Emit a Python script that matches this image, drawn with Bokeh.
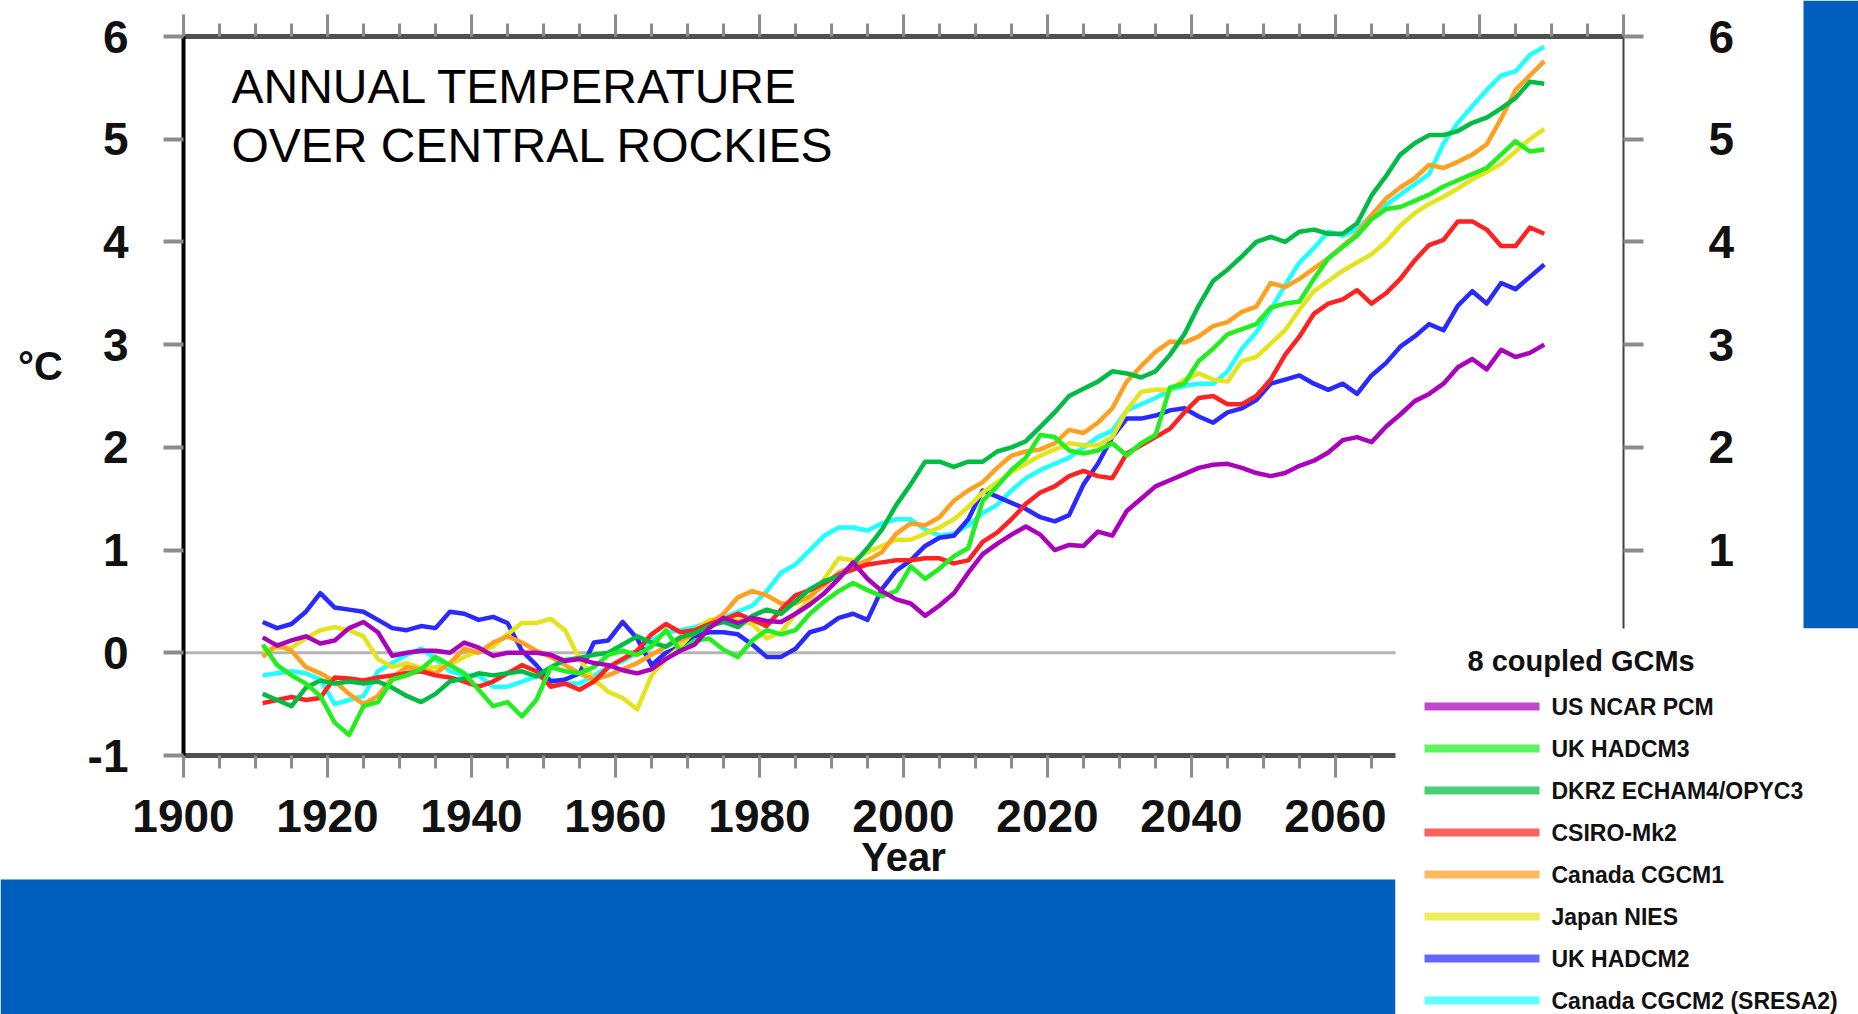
from bokeh.plotting import figure
from bokeh.models import (Range1d, LinearAxis, FixedTicker, Span, Label, Column,
                          CustomJSTickFormatter)
from bokeh.core.properties import value
from bokeh.embed import file_html
from bokeh.resources import INLINE

# ---- data: annual temperature anomaly (deg C), 8 coupled GCMs ----
years = list(range(1911, 2090, 2))

us_ncar_pcm = [0.15, 0.07, 0.12, 0.16, 0.09, 0.12, 0.24, 0.30, 0.20, -0.03,
               0.0, 0.02, 0.02, 0.0, 0.10, 0.05, -0.03, 0.0, 0.0, 0.0,
               -0.02, -0.08, -0.06, -0.10, -0.12, -0.17, -0.20, -0.16, -0.06, 0.02,
               0.08, 0.24, 0.34, 0.29, 0.34, 0.31, 0.30, 0.38, 0.47, 0.58,
               0.72, 0.88, 0.72, 0.60, 0.52, 0.48, 0.36, 0.46, 0.58, 0.78,
               0.96, 1.06, 1.15, 1.23, 1.15, 1.00, 1.05, 1.04, 1.18, 1.14,
               1.38, 1.50, 1.62, 1.68, 1.74, 1.80, 1.83, 1.84, 1.80, 1.75,
               1.72, 1.75, 1.82, 1.87, 1.95, 2.07, 2.10, 2.05, 2.20, 2.32,
               2.45, 2.52, 2.62, 2.78, 2.86, 2.76, 2.95, 2.88, 2.92, 3.00]

uk_hadcm3 = [0.08, -0.12, -0.22, -0.30, -0.42, -0.68, -0.80, -0.52, -0.48, -0.26,
             -0.22, -0.16, -0.04, -0.12, -0.20, -0.36, -0.52, -0.48, -0.62, -0.46,
             -0.14, -0.18, -0.20, -0.14, -0.02, 0.02, -0.02, 0.06, 0.22, 0.02,
             0.12, 0.14, 0.03, -0.04, 0.12, 0.22, 0.18, 0.22, 0.38, 0.50,
             0.60, 0.68, 0.61, 0.55, 0.60, 0.84, 0.72, 0.82, 0.94, 1.02,
             1.48, 1.62, 1.78, 1.90, 2.12, 2.10, 1.97, 1.94, 1.97, 2.04,
             1.92, 2.04, 2.12, 2.58, 2.62, 2.84, 2.96, 3.10, 3.15, 3.20,
             3.36, 3.40, 3.42, 3.64, 3.84, 3.95, 4.06, 4.22, 4.32, 4.34,
             4.40, 4.46, 4.54, 4.60, 4.66, 4.72, 4.85, 4.98, 4.88, 4.90]

dkrz_echam4 = [-0.40, -0.46, -0.52, -0.34, -0.27, -0.30, -0.28, -0.30, -0.28, -0.34,
               -0.42, -0.48, -0.40, -0.28, -0.25, -0.20, -0.22, -0.20, -0.18, -0.23,
               -0.14, -0.07, -0.05, -0.02, 0.0, 0.08, 0.16, 0.10, 0.06, 0.15,
               0.19, 0.26, 0.30, 0.25, 0.36, 0.42, 0.38, 0.50, 0.62, 0.70,
               0.74, 0.86, 1.02, 1.20, 1.44, 1.64, 1.86, 1.86, 1.81, 1.86,
               1.86, 1.96, 2.00, 2.06, 2.20, 2.34, 2.50, 2.57, 2.64, 2.74,
               2.72, 2.68, 2.74, 2.90, 3.10, 3.38, 3.62, 3.73, 3.86, 4.00,
               4.05, 4.00, 4.10, 4.12, 4.08, 4.08, 4.18, 4.45, 4.64, 4.85,
               4.96, 5.04, 5.04, 5.08, 5.16, 5.21, 5.30, 5.40, 5.56, 5.54]

csiro_mk2 = [-0.49, -0.46, -0.43, -0.46, -0.44, -0.24, -0.25, -0.27, -0.24, -0.22,
             -0.20, -0.18, -0.22, -0.24, -0.28, -0.33, -0.28, -0.20, -0.12, -0.18,
             -0.33, -0.30, -0.36, -0.28, -0.14, -0.06, 0.02, 0.18, 0.28, 0.20,
             0.22, 0.28, 0.32, 0.38, 0.32, 0.26, 0.42, 0.56, 0.61, 0.68,
             0.76, 0.81, 0.86, 0.88, 0.90, 0.90, 0.92, 0.92, 0.87, 0.90,
             1.08, 1.17, 1.30, 1.45, 1.56, 1.62, 1.72, 1.77, 1.72, 1.70,
             1.94, 2.02, 2.10, 2.18, 2.34, 2.48, 2.50, 2.42, 2.42, 2.50,
             2.66, 2.90, 3.08, 3.30, 3.40, 3.44, 3.53, 3.40, 3.50, 3.64,
             3.82, 3.97, 4.02, 4.20, 4.20, 4.12, 3.96, 3.96, 4.14, 4.08]

canada_cgcm1 = [-0.04, 0.08, 0.02, -0.14, -0.20, -0.28, -0.40, -0.50, -0.42, -0.24,
                -0.14, -0.16, -0.20, -0.10, 0.04, 0.0, 0.10, 0.16, 0.10, 0.02,
                -0.04, -0.12, -0.20, -0.26, -0.22, -0.16, -0.10, -0.02, 0.06, 0.12,
                0.19, 0.28, 0.38, 0.54, 0.60, 0.56, 0.48, 0.48, 0.55, 0.66,
                0.78, 0.84, 0.90, 0.98, 1.16, 1.26, 1.24, 1.32, 1.48, 1.58,
                1.66, 1.80, 1.92, 1.96, 1.98, 2.04, 2.17, 2.14, 2.24, 2.38,
                2.64, 2.79, 2.93, 3.03, 3.02, 3.08, 3.18, 3.22, 3.32, 3.37,
                3.60, 3.56, 3.64, 3.74, 3.84, 3.96, 4.08, 4.26, 4.42, 4.53,
                4.62, 4.75, 4.72, 4.78, 4.85, 4.95, 5.20, 5.48, 5.62, 5.76]

japan_nies = [0.02, 0.05, 0.05, 0.14, 0.22, 0.25, 0.22, 0.16, -0.06, -0.14,
              -0.10, -0.15, -0.14, -0.12, -0.04, 0.02, 0.06, 0.18, 0.29, 0.29,
              0.33, 0.22, -0.06, -0.26, -0.38, -0.44, -0.55, -0.22, -0.06, 0.06,
              0.22, 0.32, 0.34, 0.32, 0.28, 0.14, 0.20, 0.38, 0.52, 0.72,
              0.92, 0.90, 0.98, 1.04, 1.10, 1.10, 1.16, 1.22, 1.30, 1.42,
              1.56, 1.66, 1.76, 1.84, 1.92, 1.98, 2.04, 2.02, 2.02, 2.10,
              2.36, 2.54, 2.56, 2.56, 2.66, 2.72, 2.66, 2.64, 2.84, 2.88,
              3.01, 3.14, 3.34, 3.52, 3.62, 3.72, 3.80, 3.88, 4.00, 4.16,
              4.28, 4.37, 4.44, 4.52, 4.61, 4.68, 4.76, 4.88, 5.00, 5.10]

uk_hadcm2 = [0.30, 0.24, 0.28, 0.40, 0.58, 0.44, 0.42, 0.40, 0.32, 0.24,
             0.22, 0.26, 0.24, 0.40, 0.38, 0.32, 0.35, 0.29, 0.02, -0.12,
             -0.28, -0.26, -0.20, 0.10, 0.12, 0.30, 0.14, -0.12, 0.0, 0.06,
             0.16, 0.20, 0.20, 0.18, 0.08, -0.04, -0.04, 0.04, 0.20, 0.24,
             0.34, 0.38, 0.32, 0.62, 0.80, 0.90, 1.04, 1.12, 1.14, 1.30,
             1.58, 1.52, 1.46, 1.40, 1.32, 1.28, 1.34, 1.64, 1.84, 2.10,
             2.28, 2.28, 2.31, 2.36, 2.38, 2.30, 2.24, 2.34, 2.38, 2.46,
             2.62, 2.66, 2.70, 2.62, 2.56, 2.62, 2.52, 2.70, 2.82, 2.98,
             3.08, 3.20, 3.14, 3.38, 3.52, 3.40, 3.60, 3.54, 3.66, 3.78]

canada_cgcm2 = [-0.22, -0.20, -0.18, -0.20, -0.26, -0.50, -0.46, -0.42, -0.18, -0.10,
                -0.02, 0.04, -0.06, -0.18, -0.22, -0.22, -0.33, -0.33, -0.28, -0.23,
                -0.26, -0.30, -0.30, -0.22, -0.14, -0.08, 0.0, 0.12, 0.20, 0.22,
                0.25, 0.30, 0.34, 0.40, 0.46, 0.60, 0.78, 0.86, 1.00, 1.14,
                1.22, 1.22, 1.19, 1.26, 1.30, 1.30, 1.20, 1.14, 1.16, 1.24,
                1.36, 1.44, 1.58, 1.70, 1.78, 1.84, 1.90, 2.00, 2.10, 2.16,
                2.36, 2.42, 2.48, 2.56, 2.60, 2.62, 2.62, 2.74, 2.96, 3.12,
                3.34, 3.58, 3.80, 3.94, 4.10, 4.06, 4.12, 4.26, 4.36, 4.46,
                4.56, 4.66, 4.96, 5.16, 5.32, 5.48, 5.62, 5.66, 5.82, 5.90]

model_names = ["US NCAR PCM", "UK HADCM3", "DKRZ ECHAM4/OPYC3", "CSIRO-Mk2",
               "Canada CGCM1", "Japan NIES", "UK HADCM2", "Canada CGCM2 (SRESA2)"]
model_series = [us_ncar_pcm, uk_hadcm3, dkrz_echam4, csiro_mk2,
                canada_cgcm1, japan_nies, uk_hadcm2, canada_cgcm2]
model_colors = ["#aa00bb", "#22ee22", "#00bb44", "#ff2222",
                "#ffa020", "#e4e41e", "#2a2aff", "#22ffff"]

x_ticks = list(range(1900, 2101, 20))
x_minor = list(range(1900, 2101, 5))
y_ticks = list(range(-1, 7))

# ---- page geometry (pixels) ----
W, H = 1858, 1014
FL, FR, FT, FB = 183, 1623, 36, 755
X0, X1, Y0, Y1 = 1900, 2100, -1, 6


def px_x(px):
    return X0 + (px - FL) * (X1 - X0) / (FR - FL)


def px_y(py):
    return Y1 - (py - FT) * (Y1 - Y0) / (FB - FT)


FONT = "Liberation Sans"
BLUE = "#005EBD"
INK = "#111111"

# ================= chart =================
p = figure(width=W, height=H, x_range=Range1d(X0, X1), y_range=Range1d(Y0, Y1),
           output_backend="svg", toolbar_location=None,
           x_axis_location=None, y_axis_location=None,
           min_border_left=FL, min_border_right=W - FR,
           min_border_top=FT, min_border_bottom=H - FB)
p.frame_align = False
p.outline_line_color = None
p.grid.grid_line_color = None
p.background_fill_color = "white"
p.border_fill_color = "white"

plain_number = CustomJSTickFormatter(code="return String(tick)")


def x_axis(labels):
    ax = LinearAxis(ticker=FixedTicker(ticks=x_ticks, minor_ticks=x_minor))
    ax.axis_line_color = "#505050"
    ax.axis_line_width = 5
    ax.major_tick_line_color = "#8c8c8c"
    ax.minor_tick_line_color = "#8c8c8c"
    ax.major_tick_line_width = 3
    ax.minor_tick_line_width = 3
    ax.major_tick_in = 0
    ax.minor_tick_in = 0
    ax.major_tick_out = 22
    ax.minor_tick_out = 13
    if labels:
        ax.formatter = plain_number
        ax.major_label_text_font = FONT
        ax.major_label_text_font_style = "bold"
        ax.major_label_text_font_size = "46px"
        ax.major_label_text_color = INK
        ax.major_label_standoff = 22
    else:
        ax.formatter = CustomJSTickFormatter(code="return ''")
        ax.major_label_text_font_size = "1px"
        ax.major_label_standoff = 0
    return ax


def y_axis(line_color, line_width, standoff):
    ax = LinearAxis(ticker=FixedTicker(ticks=y_ticks, minor_ticks=[]), formatter=plain_number)
    ax.axis_line_color = line_color
    ax.axis_line_width = line_width
    ax.major_tick_line_color = "#8c8c8c"
    ax.major_tick_line_width = 4
    ax.major_tick_in = 0
    ax.major_tick_out = 20
    ax.minor_tick_out = 0
    ax.major_label_text_font = FONT
    ax.major_label_text_font_style = "bold"
    ax.major_label_text_font_size = "46px"
    ax.major_label_text_color = INK
    ax.major_label_standoff = standoff
    return ax


below = x_axis(True)
below.axis_label = "Year"
below.axis_label_text_font = FONT
below.axis_label_text_font_style = "bold"
below.axis_label_text_font_size = "40px"
below.axis_label_text_color = INK
below.axis_label_standoff = 0
p.add_layout(below, "below")
p.add_layout(x_axis(False), "above")
p.add_layout(y_axis("#000000", 4, 35), "left")
p.add_layout(y_axis("#404040", 2, 65), "right")

# zero reference line
p.add_layout(Span(location=0, dimension="width", line_color="#b4b4b4",
                  line_width=3, level="underlay"))

# model curves, first-listed model drawn last so it sits on top
for vals, col in reversed(list(zip(model_series, model_colors))):
    p.line(years, vals, line_color=col, line_width=4.5, line_join="round")

# headline inside the frame
for text, mid in (("ANNUAL TEMPERATURE", 86), ("OVER CENTRAL ROCKIES", 145)):
    p.add_layout(Label(x=px_x(231), y=px_y(mid), text=text, text_font=FONT,
                       text_font_size="48px", text_color="#000000",
                       text_align="left", text_baseline="middle"))

# ================= page overlay: bands, unit label, key =================
# drawn on a transparent full-page canvas stacked over the chart
q = figure(width=W, height=H, x_range=Range1d(0, W), y_range=Range1d(H, 0),
           output_backend="svg", toolbar_location=None,
           x_axis_location=None, y_axis_location=None, min_border=0,
           margin=(-H, 0, 0, 0))
q.frame_align = False
q.outline_line_color = None
q.grid.grid_line_color = None
q.background_fill_alpha = 0
q.border_fill_alpha = 0

# blue page bands and the white key panel
q.quad(left=[1803, 0, 1395], right=[W, 1395, W], top=[0, 879, 628], bottom=[628, H, H],
       fill_color=[BLUE, BLUE, "white"], line_color=None)

# unit label of the vertical axis
q.text(x=[40], y=[365], text=["°C"], text_font=value(FONT), text_font_style="bold",
       text_font_size="40px", text_color=INK, text_align="center", text_baseline="middle")

# key: title, swatches and model names
q.text(x=[1467], y=[660], text=["8 coupled GCMs"], text_font=value(FONT),
       text_font_style="bold", text_font_size="29px", text_color=INK,
       text_align="left", text_baseline="middle")
rows = [706 + 42 * i for i in range(len(model_names))]
q.segment(x0=[1424] * len(rows), x1=[1539] * len(rows), y0=rows, y1=rows,
          line_color=model_colors, line_alpha=0.72, line_width=8)
q.text(x=[1551] * len(rows), y=rows, text=model_names, text_font=value(FONT),
       text_font_style="bold", text_font_size="23px", text_color=INK,
       text_align="left", text_baseline="middle")

page = Column(children=[p, q], spacing=0)
open("out.html", "w").write(file_html(page, INLINE))
